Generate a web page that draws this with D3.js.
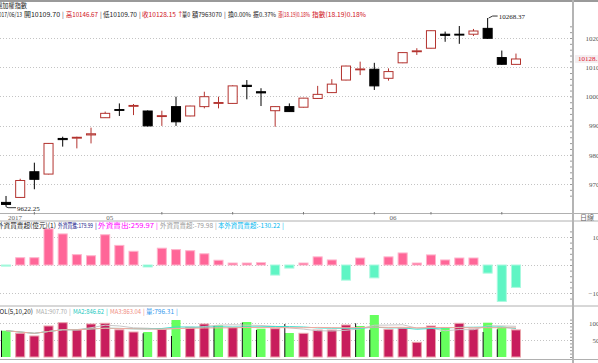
<!DOCTYPE html>
<html><head><meta charset="utf-8">
<script src="https://cdn.jsdelivr.net/npm/d3@7"></script>
<style>
body{margin:0;background:#fff;overflow:hidden}
svg{display:block;font-family:"Noto Sans CJK TC","Liberation Sans",sans-serif}
</style>
</head><body><svg width="598" height="363"></svg>
<script>
// trading days shown
var dates = ['04/20','04/21','04/24','04/25','04/26','04/27','04/28','05/02','05/03','05/04','05/05',
  '05/08','05/09','05/10','05/11','05/12','05/15','05/16','05/17','05/18','05/19','05/22','05/23',
  '05/24','05/25','05/26','05/31','06/01','06/02','06/03','06/05','06/06','06/07','06/08','06/09',
  '06/12','06/13'];
var open  = [9637,9654,9742,9734,9856,9857,9868,9927,9955,9966,9950,9931,9965,9933,9965,9976,9976,
  10038,10016,9951,9965,9963,9993,10013,10056,10091,10093,10062,10115,10153,10165,10213,10213,
  10213,10233,10133,10109.70];
var high  = [9659,9718,9773,9840,9862,9862,9893,9948,9976,9974,9952,9951,9999,9968,10016,9999,10038,
  10056,10028,9966,9976,9995,10036,10059,10105,10119,10115,10096,10151,10165,10226,10222,10241,
  10231,10268.37,10157,10146.67];
var low   = [9622.25,9652,9682,9733,9828,9822,9839,9926,9933,9936,9897,9899,9899,9932,9959,9959,9975,
  9990,9967,9896,9947,9962,9992,10012,10055,10073,10022,10054,10114,10142,10164,10187,10180,
  10207,10197,10108,10109.70];
var close = [9630,9712,9716,9839,9852,9860,9872,9942,9952,9969,9899,9934,9913,9967,9999,9979,10036,
  10034,10012,9965,9948,9994,10007,10042,10104,10094,10036,10085,10150,10156,10225,10209,10210,
  10224,10199,10109.96,10128.15];
// foreign investors net buy/sell (億)
var foreign = [-4,26,26,129,111,37,33,108,70,49,-7,60,55,51,40,17,7,7,8,-36,-11,7,29,18,-54,25,-46,
  29,43,7,36,18,25,25,-29,-130,-79.98];
// volume (億) and bar colour flag (1 = red, 0 = green)
var volume = [774,697,618,912,1009,794,971,991,800,735,735,814,1088,873,971,932,873,1029,833,833,706,
  697,794,794,941,912,1235,814,844,432,912,853,991,824,1009,891,796.31];
var volUp = [0,1,1,1,1,1,1,1,1,1,0,1,0,1,1,0,1,0,0,1,0,1,1,1,1,0,0,1,1,1,1,0,1,1,0,0,1];

var weekTicks = ['04/24','05/08','05/15','05/22','05/31','06/05','06/12'];
var monthAt = ['04/20','05/02','06/01'];
var monthText = ['2017','05','06'];
var priceTicks = [9700,9800,9900,10000,10100,10200];
var foreignTicks = [100,0,-100];
var volTicks = [1000,500];
var maPeriods = [5,10,20];
var maColors = ['#c8c8c8','#3fe0d0','#f4a89e'];

var W = 598, H = 363, axisX = 573;
var svg = d3.select('svg');

var x = d3.scaleBand().domain(dates).range([1, 521]).paddingInner(0.29);
var cx = function (d) { return x(d) + x.bandwidth() / 2; };
var yP = d3.scaleLinear().domain([9700, 10200]).range([184, 38]);
var yF = d3.scaleLinear().domain([-100, 100]).range([293, 237]);
var yV = d3.scaleLinear().domain([0, 1000]).range([357, 323]);

/* ---------- frame ---------- */
var frame = svg.append('g');
frame.append('rect').attr('x', 0).attr('y', 0).attr('width', W).attr('height', 2).attr('fill', '#9a9a9a');
[213.5, 221, 306].forEach(function (yy) {
  frame.append('line').attr('x1', 0).attr('x2', W).attr('y1', yy).attr('y2', yy)
    .attr('stroke', '#b0b0b0').attr('stroke-width', 1);
});
frame.append('line').attr('x1', 0).attr('x2', W).attr('y1', 359.5).attr('y2', 359.5)
  .attr('stroke', '#b0b0b0');

/* ---------- grids ---------- */
function grid(scale, ticks) {
  svg.append('g').selectAll('line').data(ticks).enter().append('line')
    .attr('x1', 0).attr('x2', axisX - 2)
    .attr('y1', function (d) { return Math.round(scale(d)) + 0.5; })
    .attr('y2', function (d) { return Math.round(scale(d)) + 0.5; })
    .attr('stroke', '#c4c4c4').attr('stroke-dasharray', '1,2');
}
grid(yP, priceTicks);
grid(yF, foreignTicks);
grid(yV, volTicks);

/* ---------- right axes ---------- */
function rightAxis(scale, ticks, minor) {
  var g = svg.append('g').attr('transform', 'translate(606,0)')
    .call(d3.axisLeft(scale).tickValues(ticks).tickSize(0).tickPadding(3).tickFormat(d3.format('d')));
  g.select('.domain').remove();
  g.selectAll('text').attr('font-size', 7).attr('fill', '#555').attr('font-family', '"Liberation Serif",serif');
  var t = svg.append('g').attr('transform', 'translate(' + (axisX - 1) + ',0)')
    .call(d3.axisLeft(scale).tickValues(minor).tickSize(2).tickFormat(''));
  t.select('.domain').remove();
  t.selectAll('line').attr('stroke', '#999');
}
rightAxis(yP, priceTicks, d3.range(9660, 10260, 20));
rightAxis(yF, foreignTicks, d3.range(-120, 121, 20));
rightAxis(yV, volTicks, d3.range(0, 1101, 100));

svg.append('line').attr('x1', axisX).attr('x2', axisX).attr('y1', 0).attr('y2', H)
  .attr('stroke', '#b4b4b4').attr('stroke-width', 2);

/* ---------- candles ---------- */
var candles = svg.append('g').selectAll('g').data(dates).enter().append('g');
candles.each(function (d, i) {
  var up = close[i] >= open[i];
  var col = up ? '#b3332f' : '#000';
  var g = d3.select(this);
  g.append('line').attr('x1', cx(d)).attr('x2', cx(d))
    .attr('y1', yP(high[i])).attr('y2', yP(low[i])).attr('stroke', col);
  var top = yP(Math.max(open[i], close[i])), bot = yP(Math.min(open[i], close[i]));
  g.append('rect').attr('x', x(d) + 0.5).attr('width', x.bandwidth() - 1)
    .attr('y', top).attr('height', Math.max(0.5, bot - top))
    .attr('fill', up ? '#fff' : '#000').attr('stroke', col);
});

// high / low annotations
var iHi = d3.maxIndex(high), iLo = d3.minIndex(low);
var ann = svg.append('g').attr('font-size', 7).attr('fill', '#222').attr('font-family', '"Liberation Serif",serif');
ann.append('path').attr('fill', 'none').attr('stroke', '#333')
  .attr('d', 'M' + (cx(dates[iHi]) + 1) + ',' + yP(high[iHi]) + 'l4,-2h5');
ann.append('text').attr('x', cx(dates[iHi]) + 11).attr('y', yP(high[iHi]) + 1).text(d3.format('.2f')(high[iHi]));
ann.append('path').attr('fill', 'none').attr('stroke', '#333')
  .attr('d', 'M' + cx(dates[iLo]) + ',' + yP(low[iLo]) + 'l2,1h8');
ann.append('text').attr('x', cx(dates[iLo]) + 11).attr('y', yP(low[iLo]) + 4).text(d3.format('.2f')(low[iLo]));

// last price on the axis
var last = close[close.length - 1];
svg.append('rect').attr('x', axisX + 2).attr('y', yP(last) - 4).attr('width', 30).attr('height', 8).attr('fill', '#f4eef0');
svg.append('text').attr('x', 578).attr('y', yP(last) + 2.5).attr('font-size', 7)
  .attr('fill', '#e0102a').attr('font-family', '"Liberation Serif",serif').text(d3.format('.2f')(last));

/* ---------- date axis ---------- */
svg.append('g').selectAll('line').data(weekTicks).enter().append('line')
  .attr('x1', cx).attr('x2', cx).attr('y1', 212).attr('y2', 214.5).attr('stroke', '#777');
svg.append('g').selectAll('text').data(monthAt).enter().append('text')
  .attr('x', function (d, i) { return cx(d) + (i === 0 ? 2 : 1); }).attr('y', 219.5)
  .attr('font-size', 7).attr('fill', '#666').attr('font-family', '"Liberation Serif",serif')
  .text(function (d, i) { return monthText[i]; });
svg.append('text').attr('x', 580).attr('y', 219.5).attr('font-size', 7).attr('fill', '#666').text('日線');

/* ---------- foreign panel ---------- */
svg.append('g').selectAll('rect').data(dates).enter().append('rect')
  .attr('x', function (d) { return x(d) + 0.5; }).attr('width', x.bandwidth() - 1)
  .attr('y', function (d, i) { return yF(Math.max(0, foreign[i])); })
  .attr('height', function (d, i) { return Math.max(1, Math.abs(yF(foreign[i]) - yF(0))); })
  .attr('fill', function (d, i) { return foreign[i] >= 0 ? '#ff6698' : '#5ff5c4'; })
  .attr('stroke', function (d, i) { return foreign[i] >= 0 ? '#ffb3cb' : '#aaf9df'; });

/* ---------- volume panel ---------- */
var vb = svg.append('g').selectAll('g').data(dates).enter().append('g');
vb.append('rect')
  .attr('x', function (d) { return x(d) + 0.5; }).attr('width', x.bandwidth() - 1)
  .attr('y', function (d, i) { return yV(volume[i]); })
  .attr('height', function (d, i) { return yV(0) - yV(volume[i]); })
  .attr('fill', function (d, i) { return volUp[i] ? '#c81d5c' : '#66ff5e'; })
  .attr('stroke', function (d, i) { return volUp[i] ? '#eaa3ab' : 'none'; });
vb.filter(function (d, i) { return !volUp[i]; }).append('line')
  .attr('x1', function (d) { return x(d) + 0.5; }).attr('x2', function (d) { return x(d) + 0.5; })
  .attr('y1', function (d, i) { return yV(volume[i]); }).attr('y2', yV(0)).attr('stroke', '#111');

maPeriods.forEach(function (n, k) {
  var ma = volume.map(function (v, i) { return d3.mean(volume.slice(Math.max(0, i - n + 1), i + 1)); });
  svg.append('path').datum(ma).attr('fill', 'none').attr('stroke', maColors[k]).attr('stroke-width', 1)
    .attr('d', d3.line().x(function (v, i) { return cx(dates[i]); }).y(function (v) { return yV(v); }));
});

/* ---------- header texts: [text, colour, left, right] ---------- */
function header(items, y) {
  svg.append('g').selectAll('text').data(items).enter().append('text')
    .attr('x', function (d) { return d[2]; }).attr('y', y)
    .attr('font-size', 6.6).attr('fill', function (d) { return d[1]; })
    .attr('textLength', function (d) { return d[3] ? d[3] - d[2] : null; })
    .attr('lengthAdjust', 'spacingAndGlyphs')
    .text(function (d) { return d[0]; });
}
header([['臺灣加權指數', '#222', -10, 27]], 8);
header([
  ['2017/06/13', '#222', -4, 22], ['開10109.70', '#222', 24, 60], ['|', '#444', 62],
  ['高10146.67', '#d0101a', 66, 98], ['|', '#444', 100], ['低10109.70', '#222', 103, 137], ['|', '#444', 139],
  ['收10128.15', '#d0101a', 142, 176], ['↑', '#d0101a', 177], ['量0', '#222', 182, 190], ['額7963070', '#222', 192, 222],
  ['|', '#444', 224], ['換0.00%', '#222', 228, 251], ['振0.37%', '#222', 253, 276],
  ['漲(18.19)0.18%', '#d0101a', 278, 310], ['指數(18.19)0.18%', '#d0101a', 312, 366]
], 16.5);
header([
  ['外資買賣超(億元)(1)', '#222', -3, 56], ['外資買進:179.99', '#1a1a8c', 58, 93], ['|', '#1a1a8c', 95],
  ['外資賣出:259.97', '#ff00ff', 98, 154], ['|', '#ff00ff', 156], ['外資買賣超:-79.98', '#999', 160, 213],
  ['|', '#999', 215], ['本外資買賣超:-130.22', '#00b8f0', 218, 280], ['|', '#00b8f0', 282]
], 227.5);
header([
  ['VOL(5,10,20)', '#222', -4, 33], ['MA1:907.70', '#aaa', 36, 67], ['|', '#aaa', 69],
  ['MA2:846.62', '#20c8c0', 73, 104], ['|', '#20c8c0', 106], ['MA3:863.04', '#f08a80', 110, 141], ['|', '#f08a80', 143],
  ['量:796.31', '#3399ee', 146, 174], ['|', '#3399ee', 176]
], 313.5);
</script>
</body></html>
